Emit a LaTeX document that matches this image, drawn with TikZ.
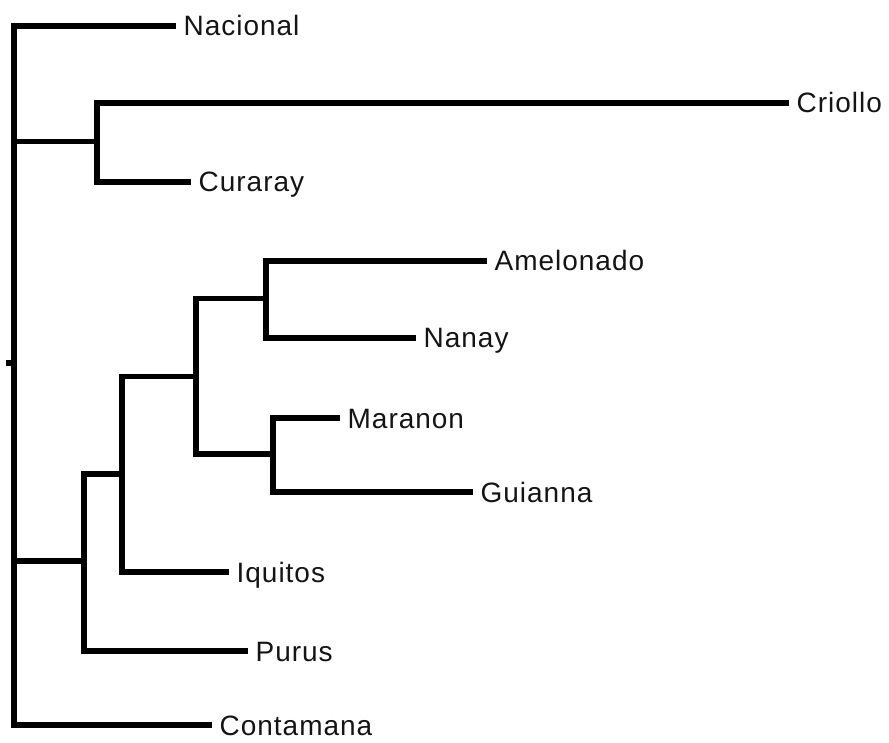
\documentclass[tikz,border=0pt]{standalone}
\usepackage{fontspec}
\setmainfont{Liberation Sans}[LetterSpace=3.5]
\usepackage{xcolor}
\usepackage{tikz}
\usetikzlibrary{positioning,calc}
\definecolor{cBranch}{HTML}{000000}
\definecolor{cTaxon}{HTML}{141414}
\tikzset{
  br/.style={draw=cBranch, line width=5.5pt, line join=miter},
  taxon/.style={anchor=west, inner xsep=7.5pt, inner ysep=0pt, text height=20pt,
                text depth=0pt, yshift=-1pt, text=cTaxon,
                font=\fontsize{28}{31}\selectfont}
}

\begin{document}
\begin{tikzpicture}[x=1pt, y=-1pt]
\useasboundingbox (0,0) rectangle (889,743);
% tips (end of branch, row)
\node[taxon] (nacional)  at (176,25)  {Nacional};
\node[taxon] (criollo)   at (789,102) {Criollo};
\node[taxon] (curaray)   at (191,181) {Curaray};
\node[taxon] (amelonado) at (487,260) {Amelonado};
\node[taxon] (nanay)     at (416,337) {Nanay};
\node[taxon] (maranon)   at (340,417) {Maranon};
\node[taxon] (guianna)   at (473,491) {Guianna};
\node[taxon] (iquitos)   at (229,571) {Iquitos};
\node[taxon] (purus)     at (248,650) {Purus};
\node[taxon] (contamana) at (212,724) {Contamana};
% inner nodes
\coordinate (root) at (14,363);
\coordinate (stub) at (6,363);
\coordinate (nCC)  at (97,141.5);
\coordinate (nBig) at (84,561);
\coordinate (nSub) at (122,474);
\coordinate (nTop) at (196,376.5);
\coordinate (nAN)  at (266,298.5);
\coordinate (nMG)  at (273,454);
% branches
\draw[br] (nacional.west) -| (root) |- (contamana.west);
\draw[br] (root) -- (stub);
\draw[br] (nCC) -- (root |- nCC);
\draw[br] (nBig) -- (root |- nBig);
\draw[br] (criollo.west) -| (nCC) |- (curaray.west);
\draw[br] (nSub) -| (nBig) |- (purus.west);
\draw[br] (nTop) -| (nSub) |- (iquitos.west);
\draw[br] (nAN) -| (nTop) |- (nMG);
\draw[br] (amelonado.west) -| (nAN) |- (nanay.west);
\draw[br] (maranon.west) -| (nMG) |- (guianna.west);
\end{tikzpicture}
\end{document}
